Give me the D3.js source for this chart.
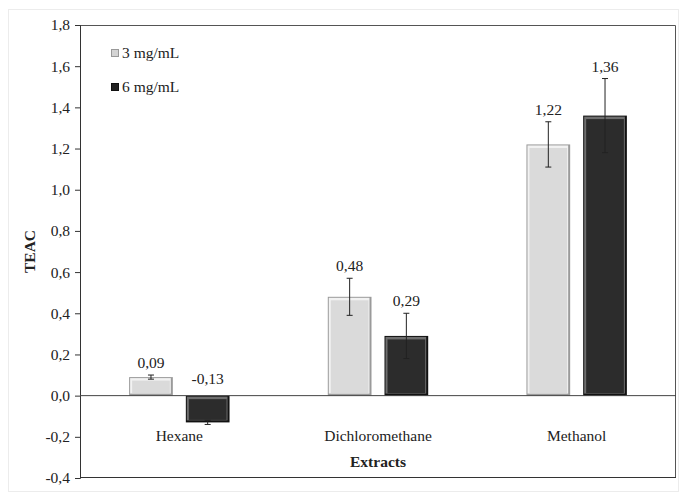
<!DOCTYPE html>
<html>
<head>
<meta charset="utf-8">
<script src="https://cdn.jsdelivr.net/npm/d3@7"></script>
<style>
  body { margin: 0; background: #fff; }
  svg text { font-family: "Liberation Serif", "Times New Roman", serif !important; fill: #222; }
</style>
</head>
<body>
<div id="chart"></div>
<script>
const categories = ["Hexane", "Dichloromethane", "Methanol"];
const seriesNames = ["3 mg/mL", "6 mg/mL"];
const values3 = [0.09, 0.48, 1.22];
const values6 = [-0.13, 0.29, 1.36];
const errors3 = [0.01, 0.09, 0.11];
const errors6 = [0.01, 0.11, 0.18];
const valueLabels3 = ["0,09", "0,48", "1,22"];
const valueLabels6 = ["-0,13", "0,29", "1,36"];
const yTicks = [-0.4, -0.2, 0, 0.2, 0.4, 0.6, 0.8, 1.0, 1.2, 1.4, 1.6, 1.8];

const width = 680, height = 495;
const margin = {top: 25, right: 4, bottom: 17, left: 80};
const innerWidth = width - margin.left - margin.right;
const innerHeight = height - margin.top - margin.bottom;
const fontSize = "15.5px";

const svg = d3.select("#chart").append("svg")
    .attr("width", width)
    .attr("height", height);

// outer chart border
svg.append("rect")
    .attr("x", 8.5).attr("y", 9.5)
    .attr("width", 670).attr("height", 482)
    .attr("fill", "none")
    .attr("stroke", "#ececec");

const chart = svg.append("g")
    .attr("transform", `translate(${margin.left}, ${margin.top})`);

const x = d3.scaleBand()
    .domain(categories)
    .range([0, innerWidth])
    .padding(0);

const y = d3.scaleLinear()
    .domain([-0.4, 1.8])
    .range([innerHeight, 0]);

const barW = x.bandwidth() * 0.22;
const barGap = 13;

const data = categories.map((c, i) => [
    {cat: c, s: 0, v: values3[i], e: errors3[i], label: valueLabels3[i]},
    {cat: c, s: 1, v: values6[i], e: errors6[i], label: valueLabels6[i]}
]).flat();

const barX = d => x(d.cat) + x.bandwidth() / 2 + (d.s === 0 ? -barGap / 2 - barW : barGap / 2);

// plot frame (top and right)
chart.append("path")
    .attr("d", `M0,0.5H${innerWidth - 0.5}V${innerHeight}`)
    .attr("fill", "none")
    .attr("stroke", "#555");

// y axis
const yAxis = d3.axisLeft(y)
    .tickValues(yTicks)
    .tickSize(5)
    .tickPadding(5)
    .tickFormat(d => d3.format(".1f")(d).replace(".", ",").replace("−", "-"));

const gy = chart.append("g").call(yAxis)
    .attr("font-family", null)
    .attr("font-size", null);
gy.select(".domain").attr("stroke", "#333");
gy.selectAll(".tick line").attr("stroke", "#333");
gy.selectAll("text")
    .style("font-size", fontSize)
    .attr("fill", "#222");

// bottom frame line
chart.append("line")
    .attr("x1", 0).attr("x2", innerWidth)
    .attr("y1", innerHeight - 0.5).attr("y2", innerHeight - 0.5)
    .attr("stroke", "#333");

// bars with bevel look
const palette = [
    {fill: "#dcdcdc", edge: "#9a9a9a", hi: "#f2f2f2", inner: "#dadada"},
    {fill: "#2a2a2a", edge: "#111111", hi: "#6e6e6e", inner: "#2c2c2c"}
];

const bars = chart.selectAll(".bar")
    .data(data)
    .enter().append("g")
    .attr("class", "bar");

const barTop = d => y(Math.max(0, d.v));
const barH = d => Math.abs(y(d.v) - y(0));

bars.append("rect")
    .attr("x", barX)
    .attr("y", barTop)
    .attr("width", barW)
    .attr("height", barH)
    .attr("fill", d => palette[d.s].edge);

bars.append("rect")
    .attr("x", d => barX(d) + 1)
    .attr("y", d => barTop(d) + 1)
    .attr("width", barW - 3)
    .attr("height", d => Math.max(0, barH(d) - 3))
    .attr("fill", d => palette[d.s].hi);

bars.append("rect")
    .attr("x", d => barX(d) + 3)
    .attr("y", d => barTop(d) + 3.5)
    .attr("width", barW - 6)
    .attr("height", d => Math.max(0, barH(d) - 6))
    .attr("fill", d => palette[d.s].inner);

// x axis at zero
chart.append("line")
    .attr("x1", 0).attr("x2", innerWidth)
    .attr("y1", y(0)).attr("y2", y(0))
    .attr("stroke", "#444");

// error bars
const err = chart.selectAll(".err")
    .data(data)
    .enter().append("g")
    .attr("class", "err")
    .attr("stroke", "#222")
    .attr("stroke-width", 1);

const cx = d => barX(d) + barW / 2;

err.append("line")
    .attr("x1", cx).attr("x2", cx)
    .attr("y1", d => y(d.v + d.e)).attr("y2", d => y(d.v - d.e));
err.append("line")
    .attr("x1", d => cx(d) - 3).attr("x2", d => cx(d) + 3)
    .attr("y1", d => y(d.v + d.e)).attr("y2", d => y(d.v + d.e));
err.append("line")
    .attr("x1", d => cx(d) - 3).attr("x2", d => cx(d) + 3)
    .attr("y1", d => y(d.v - d.e)).attr("y2", d => y(d.v - d.e));

// value labels
chart.selectAll(".vlabel")
    .data(data)
    .enter().append("text")
    .attr("class", "vlabel")
    .attr("x", cx)
    .attr("y", d => d.v >= 0 ? y(d.v + d.e) - 7 : y(0) - 12)
    .attr("text-anchor", "middle")
    .style("font-size", fontSize)
    .text(d => d.label);

// category labels
chart.selectAll(".clabel")
    .data(categories)
    .enter().append("text")
    .attr("class", "clabel")
    .attr("x", d => x(d) + x.bandwidth() / 2)
    .attr("y", y(0) + 45)
    .attr("text-anchor", "middle")
    .style("font-size", fontSize)
    .text(d => d);

// axis titles
chart.append("text")
    .attr("x", innerWidth / 2)
    .attr("y", y(0) + 71)
    .attr("text-anchor", "middle")
    .style("font-size", fontSize)
    .style("font-weight", "bold")
    .text("Extracts");

chart.append("text")
    .attr("transform", `translate(${35 - margin.left}, ${innerHeight / 2}) rotate(-90)`)
    .attr("text-anchor", "middle")
    .style("font-size", fontSize)
    .style("font-weight", "bold")
    .text("TEAC");

// legend
const legend = chart.append("g")
    .attr("transform", "translate(31, 28)");

const legendItems = legend.selectAll("g")
    .data(seriesNames)
    .enter().append("g")
    .attr("transform", (d, i) => `translate(0, ${i * 34})`);

legendItems.append("rect")
    .attr("x", 0.5).attr("y", -3.5)
    .attr("width", 7).attr("height", 7)
    .attr("fill", (d, i) => i === 0 ? "#d4d4d4" : "#222")
    .attr("stroke", (d, i) => i === 0 ? "#999" : "#111");

legendItems.append("text")
    .attr("x", 11)
    .attr("y", 5)
    .style("font-size", fontSize)
    .text(d => d);
</script>
</body>
</html>
